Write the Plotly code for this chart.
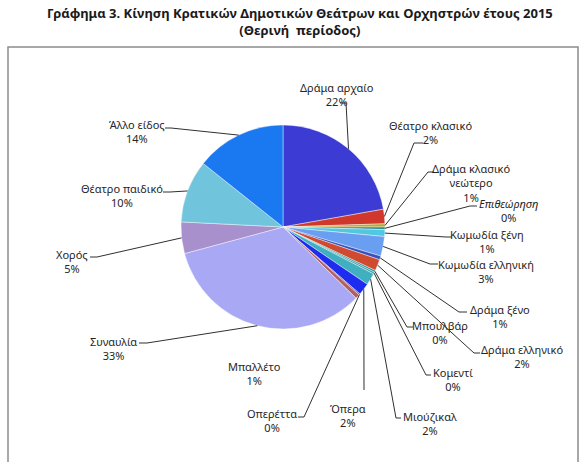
import math

import plotly.graph_objects as go


W, H = 579, 462

genres = [
    "Δράμα αρχαίο", "Θέατρο κλασικό", "Δράμα κλασικό νεώτερο", "Επιθεώρηση",
    "Κωμωδία ξένη", "Κωμωδία ελληνική", "Δράμα ξένο", "Δράμα ελληνικό",
    "Μπουλβάρ", "Κομεντί", "Μιούζικαλ", "Όπερα", "Οπερέττα", "Μπαλλέτο",
    "Συναυλία", "Χορός", "Θέατρο παιδικό", "Άλλο είδος",
]
shares = [22.2, 2.3, 0.5, 0.4, 1.1, 3.1, 0.6, 1.8, 0.3, 0.3, 1.9, 1.9, 0.2, 0.7,
          33.5, 5.0, 9.9, 14.3]
shown_pct = [22, 2, 1, 0, 1, 3, 1, 2, 0, 0, 2, 2, 0, 1, 33, 5, 10, 14]

colors = [
    "#3c3cd4", "#d0382c", "#b8a838", "#2a8a9a", "#50c8e0", "#6a9ef0",
    "#3a50c0", "#d04a30", "#2a9090", "#30a0a8", "#40b0c0", "#1e2cf0",
    "#8a5080", "#b06060", "#a8a8f4", "#a890cc", "#70c4dc", "#1a78f0",
]

# pie geometry in pixels
CX, CY, R = 283, 227, 102

# label block centres and leader start / elbow, in pixels
label_pos = [
    (337, 94), (430, 133), (471, 183), (508, 210), (487, 241), (486, 271),
    (500, 316), (522, 356), (440, 332), (453, 379), (430, 423), (348, 415),
    (272, 420), (254, 373), (113, 348), (72, 261), (122, 195), (137, 131),
]
leaders = [
    ((340, 103), (346, 103)), ((423, 143), (414, 143)), ((434, 172), (428, 172)),
    ((477, 206), (470, 206)), ((452, 237), (446, 237)), ((438, 264), (430, 264)),
    ((467, 312), (459, 312)), ((480, 353), (474, 353)), ((413, 327), (407, 327)),
    ((431, 375), (426, 375)), ((401, 418), (396, 418)), ((364, 390), (364, 390)),
    ((298, 417), (304, 417)), None, ((139, 343), (147, 343)),
    ((90, 257), (97, 257)), ((163, 192), (170, 192)), ((165, 128), (171, 128)),
]


def px(x, y):
    return x / W, 1 - y / H


fig = go.Figure()
fig.add_trace(go.Pie(
    labels=genres,
    values=shares,
    sort=False,
    direction="clockwise",
    rotation=0,
    marker={"colors": colors, "line": {"color": "rgba(255,255,255,0.7)", "width": 0.6}},
    textinfo="none",
    hoverinfo="label+percent",
    showlegend=False,
    domain={"x": [(CX - R) / W, (CX + R) / W], "y": [1 - (CY + R) / H, 1 - (CY - R) / H]},
))

total = sum(shares)
cum = 0
annotations = []
shapes = []
for i, name in enumerate(genres):
    mid = (cum + shares[i] / 2) / total
    cum += shares[i]
    ang = 2 * math.pi * mid
    ex, ey = CX + R * math.sin(ang), CY - R * math.cos(ang)

    text = name.replace("κλασικό νεώτερο", "κλασικό<br>νεώτερο")
    if name == "Επιθεώρηση":
        text = "<i>" + text + "</i>"
    lx, ly = px(*label_pos[i])
    annotations.append(dict(
        x=lx, y=ly, xref="paper", yref="paper",
        text=f"{text}<br>{shown_pct[i]}%",
        showarrow=False, xanchor="center", yanchor="middle",
        font={"size": 11, "color": "#262626"},
    ))
    if leaders[i] is not None:
        (ax, ay), (bx, by) = leaders[i]
        p = [px(ax, ay), px(bx, by), px(ex, ey)]
        path = "M {},{} L {},{} L {},{}".format(p[0][0], p[0][1], p[1][0], p[1][1], p[2][0], p[2][1])
        shapes.append(dict(type="path", xref="paper", yref="paper", path=path,
                           line={"color": "#303030", "width": 1}))

# chart frame
shapes.append(dict(type="rect", xref="paper", yref="paper",
                   x0=8 / W, x1=578 / W, y0=-0.05, y1=1 - 47 / H,
                   line={"color": "#8c8c8c", "width": 1.5}, layer="below"))

annotations.append(dict(
    x=300 / W, y=1 - 2 / H, xref="paper", yref="paper",
    text="<b>Γράφημα 3. Κίνηση Κρατικών Δημοτικών Θεάτρων και Ορχηστρών έτους 2015</b>"
         "<br><b>(Θερινή  περίοδος)</b>",
    showarrow=False, xanchor="center", yanchor="top",
    font={"size": 13, "color": "#1a1a1a"},
))

fig.update_layout(
    width=W,
    height=H,
    margin={"l": 0, "r": 0, "t": 0, "b": 0},
    paper_bgcolor="white",
    plot_bgcolor="white",
    font={"family": "Noto Sans, DejaVu Sans, sans-serif"},
    annotations=annotations,
    shapes=shapes,
)

# the page body has a default margin; drop it so the figure starts at the corner
fig.write_html(
    "out.html",
    config={"displayModeBar": False},
    post_script="document.body.style.margin = '0';",
)
